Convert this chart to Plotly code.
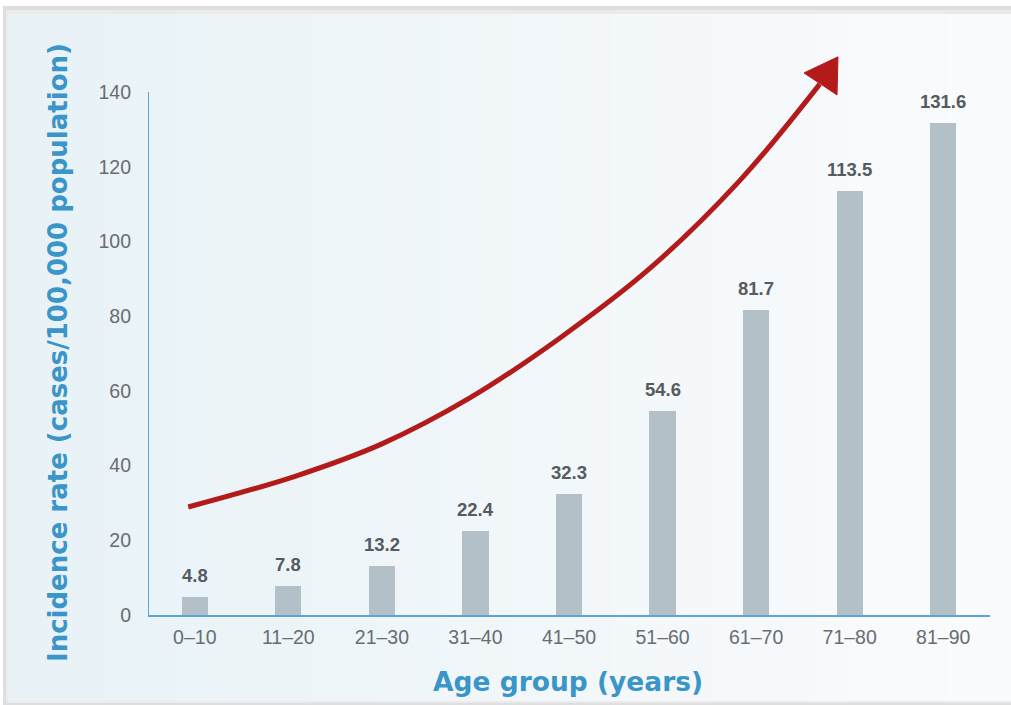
import plotly.graph_objects as go

categories = ["0\u201310", "11\u201320", "21\u201330", "31\u201340", "41\u201350",
              "51\u201360", "61\u201370", "71\u201380", "81\u201390"]
rates = [4.8, 7.8, 13.2, 22.4, 32.3, 54.6, 81.7, 113.5, 131.6]
y_ticks = [0, 20, 40, 60, 80, 100, 120, 140]

# decorative trend arrow (position index, value)
arrow_x = [-0.07, 1.08, 2.0, 2.94, 3.9, 4.87, 5.83, 6.68]
arrow_y = [28.9, 37.2, 45.8, 58.1, 74.1, 92.9, 116.4, 142.1]
head_x = [6.875, 6.512, 6.865]
head_y = [149.4, 145.1, 139.2]

W, H = 1011, 705
L, R, T, B = 148, 21, 40, 90
PW, PH = W - L - R, H - T - B


def px_x(p):
    return (p - L) / PW


def px_y(p):
    return (H - B - p) / PH


fig = go.Figure()
fig.add_trace(go.Bar(
    x=list(range(len(categories))), y=rates, width=0.28,
    marker=dict(color="#b3c0c8", line=dict(width=0)),
    hoverinfo="skip",
))
fig.add_trace(go.Scatter(
    x=arrow_x, y=arrow_y, mode="lines",
    line=dict(color="#b31b1b", width=5, shape="spline"),
    hoverinfo="skip",
))

shapes = []
# frame shadow
shapes.append(dict(type="rect", xref="paper", yref="paper",
                   x0=px_x(3), x1=px_x(1015), y0=px_y(708), y1=px_y(6),
                   fillcolor="#dedede", line=dict(width=0), layer="below"))
shapes.append(dict(type="rect", xref="paper", yref="paper",
                   x0=px_x(6), x1=px_x(1015), y0=px_y(703), y1=px_y(10),
                   fillcolor="#ebebeb", line=dict(width=0), layer="below"))
# gradient panel
n = 30
c0 = (232, 242, 247)
c1 = (250, 251, 252)
for i in range(n):
    a = 8 + (1015 - 8) * i / n
    b = 8 + (1015 - 8) * (i + 1) / n + 1
    t = i / (n - 1)
    col = tuple(round(c0[k] + (c1[k] - c0[k]) * t) for k in range(3))
    shapes.append(dict(type="rect", xref="paper", yref="paper",
                       x0=px_x(a), x1=px_x(b), y0=px_y(701), y1=px_y(14),
                       fillcolor="rgb(%d,%d,%d)" % col, line=dict(width=0),
                       layer="below"))
# y axis line (0..140)
shapes.append(dict(type="line", xref="x", yref="y", x0=-0.5, x1=-0.5,
                   y0=0, y1=y_ticks[-1], line=dict(color="#5ba6d6", width=2)))
# arrow head
path = "M %f,%f L %f,%f L %f,%f Z" % (head_x[0], head_y[0], head_x[1], head_y[1],
                                      head_x[2], head_y[2])
shapes.append(dict(type="path", xref="x", yref="y", path=path,
                   fillcolor="#b31b1b", line=dict(color="#b31b1b", width=1)))

annotations = []
for i, v in enumerate(rates):
    annotations.append(dict(x=i, y=v, text="<b>%s</b>" % v, showarrow=False,
                            yanchor="bottom", yshift=9,
                            font=dict(family="Arial", size=18.5, color="#555b60")))
annotations.append(dict(xref="paper", yref="paper", x=px_x(568), y=px_y(681),
                        xanchor="center", yanchor="middle",
                        text="<b>Age group (years)</b>", showarrow=False,
                        font=dict(family="DejaVu Sans", size=26.5, color="#3a95c8")))
annotations.append(dict(xref="paper", yref="paper", x=px_x(58), y=px_y(353),
                        xanchor="center", yanchor="middle",
                        text="<b>Incidence rate (cases/100,000 population)</b>",
                        showarrow=False, textangle=-90,
                        font=dict(family="DejaVu Sans", size=26, color="#3a95c8")))

fig.update_layout(
    width=W, height=H,
    margin=dict(l=L, r=R, t=T, b=B),
    paper_bgcolor="white", plot_bgcolor="rgba(0,0,0,0)",
    showlegend=False,
    shapes=shapes, annotations=annotations,
    bargap=0,
)
fig.update_xaxes(
    range=[-0.5, len(categories) - 0.5],
    tickvals=list(range(len(categories))), ticktext=categories,
    showgrid=False, zeroline=False,
    showline=True, linecolor="#5ba6d6", linewidth=2,
    ticks="", ticklabelstandoff=4,
    tickfont=dict(family="Arial", size=19.5, color="#686d72"),
)
fig.update_yaxes(
    range=[0, PH / 3.736],
    tickvals=y_ticks, showgrid=False, zeroline=False, showline=False,
    ticks="", ticklabelstandoff=16,
    tickfont=dict(family="Arial", size=19.5, color="#686d72"),
)
fig.write_html("out.html")
